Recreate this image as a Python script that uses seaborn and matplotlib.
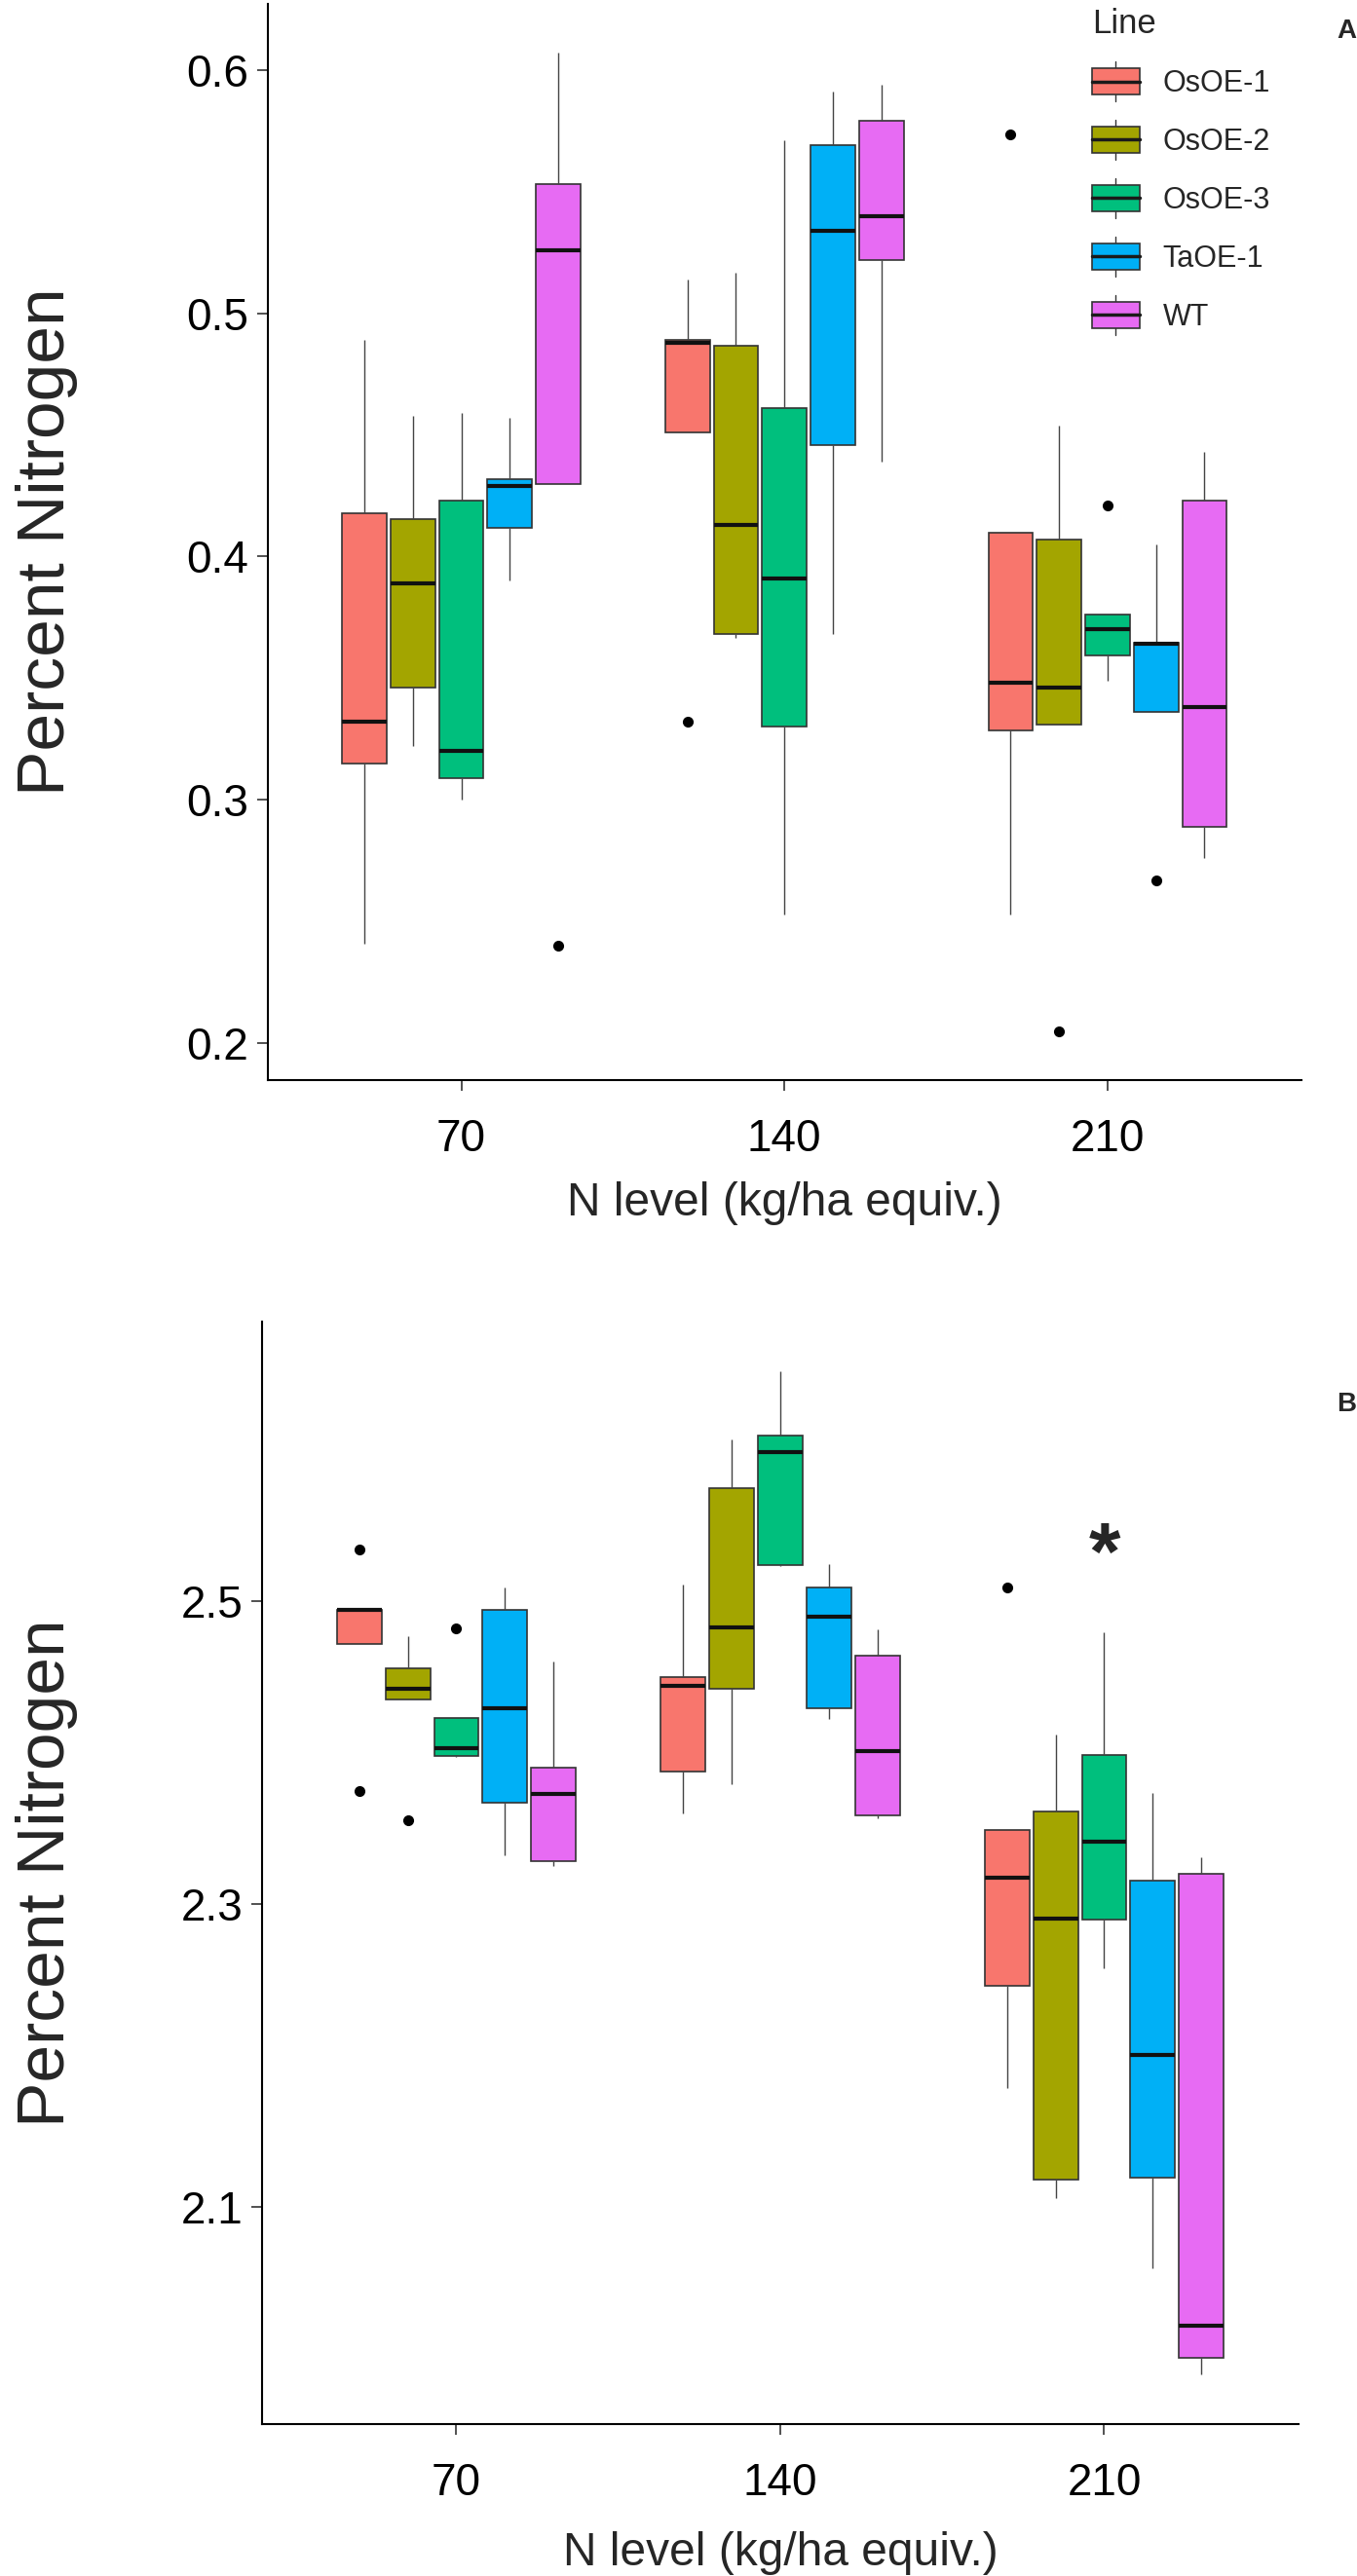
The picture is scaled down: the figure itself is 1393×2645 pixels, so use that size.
import matplotlib
matplotlib.use("Agg")
import matplotlib.pyplot as plt
import pandas as pd
import seaborn as sns
from matplotlib.legend_handler import HandlerBase
from matplotlib.lines import Line2D
from matplotlib.patches import Patch, Rectangle

levels = ["70", "140", "210"]
lines = ["OsOE-1", "OsOE-2", "OsOE-3", "TaOE-1", "WT"]
colors = ["#F8766D", "#A3A500", "#00BF7D", "#00B0F6", "#E76BF3"]

# panel A: observations per line at each N level
a_70 = [
    [0.241, 0.315, 0.332, 0.418, 0.489],
    [0.322, 0.346, 0.389, 0.4155, 0.458],
    [0.300, 0.309, 0.320, 0.423, 0.459],
    [0.390, 0.412, 0.429, 0.432, 0.457],
    [0.240, 0.430, 0.526, 0.553, 0.607],
]
a_140 = [
    [0.332, 0.451, 0.488, 0.489, 0.514],
    [0.3665, 0.368, 0.413, 0.4865, 0.5165],
    [0.253, 0.330, 0.391, 0.461, 0.571],
    [0.368, 0.446, 0.534, 0.569, 0.591],
    [0.439, 0.522, 0.540, 0.579, 0.594],
]
a_210 = [
    [0.253, 0.3285, 0.348, 0.410, 0.5735],
    [0.205, 0.331, 0.346, 0.407, 0.454],
    [0.349, 0.3594, 0.370, 0.376, 0.421],
    [0.267, 0.336, 0.364, 0.3645, 0.405],
    [0.276, 0.289, 0.338, 0.423, 0.443],
]

# panel B
b_70 = [
    [2.3745, 2.4713, 2.494, 2.494, 2.534],
    [2.3553, 2.4347, 2.4418, 2.4553, 2.4765],
    [2.397, 2.398, 2.403, 2.4226, 2.4822],
    [2.3324, 2.3668, 2.4292, 2.494, 2.5092],
    [2.3252, 2.3281, 2.3725, 2.3897, 2.4599],
]
b_140 = [
    [2.3596, 2.3877, 2.4441, 2.4496, 2.5109],
    [2.3788, 2.4418, 2.4828, 2.5745, 2.6066],
    [2.523, 2.5235, 2.598, 2.6089, 2.6513],
    [2.4221, 2.4295, 2.4897, 2.5086, 2.5241],
    [2.3567, 2.3582, 2.4009, 2.4642, 2.4811],
]
b_210 = [
    [2.1782, 2.246, 2.3172, 2.349, 2.5086],
    [2.106, 2.1182, 2.2905, 2.361, 2.412],
    [2.2576, 2.29, 2.341, 2.3983, 2.4794],
    [2.0596, 2.1196, 2.2004, 2.3152, 2.373],
    [1.9898, 2.0007, 2.0215, 2.3201, 2.331],
]

a_ticks = [0.2, 0.3, 0.4, 0.5, 0.6]
b_ticks = [2.1, 2.3, 2.5]


def to_frame(per_level):
    rows = []
    for lvl, groups in zip(levels, per_level):
        for ln, vals in zip(lines, groups):
            for v in vals:
                rows.append({"level": lvl, "Line": ln, "pct": v})
    return pd.DataFrame(rows)


class BoxKey(HandlerBase):
    # ggplot-like boxplot legend key
    def create_artists(self, legend, orig_handle, xdescent, ydescent,
                       width, height, fontsize, trans):
        x0, y0 = -xdescent, -ydescent
        xm, ym = x0 + width / 2, y0 + height / 2
        ext = height * 0.27
        whisk = Line2D([xm, xm], [y0 - ext, y0 + height + ext],
                       color="#333333", lw=1.0, transform=trans)
        box = Rectangle((x0, y0), width, height,
                        facecolor=orig_handle.get_facecolor(),
                        edgecolor="#333333", lw=1.2, transform=trans)
        med = Line2D([x0, x0 + width], [ym, ym], color="#1a1a1a",
                     lw=2.5, transform=trans)
        return [whisk, box, med]


sns.set_theme(style="ticks")
plt.rcParams["font.family"] = ["Liberation Sans", "DejaVu Sans"]

W, H = 1393, 2645
fig = plt.figure(figsize=(W / 100, H / 100), dpi=100)
ax_a = fig.add_axes([274.5 / W, 1 - 1109 / H, 1061.5 / W, 1105 / H])
ax_b = fig.add_axes([269 / W, 1 - 2489 / H, 1064 / W, 1132 / H])


def draw_panel(ax, df, yticks):
    sns.boxplot(
        data=df, x="level", y="pct", hue="Line",
        order=levels, hue_order=lines, palette=colors,
        saturation=1, width=0.75, gap=0.08,
        linecolor="#333333", linewidth=1.2,
        showcaps=False, whis=1.5, fliersize=7,
        medianprops={"color": "#111111", "linewidth": 3.0},
        whiskerprops={"linewidth": 1.0, "color": "#444444"},
        flierprops={"marker": "o", "markerfacecolor": "black",
                    "markeredgecolor": "black"},
        legend=False, ax=ax,
    )
    lo, hi = df["pct"].min(), df["pct"].max()
    pad = (hi - lo) * 0.05
    ax.set_ylim(lo - pad, hi + pad)
    ax.set_xlim(-0.6, 2.6)
    ax.set_yticks(yticks)
    ax.set_yticklabels([f"{t:g}" for t in yticks])
    sns.despine(ax=ax)
    for side in ["left", "bottom"]:
        ax.spines[side].set_color("black")
        ax.spines[side].set_linewidth(1.5)
    ax.tick_params(axis="both", length=8, width=1.2, color="#333333",
                   labelsize=33, labelcolor="black")
    ax.tick_params(axis="x", pad=20)
    ax.tick_params(axis="y", pad=6)
    ax.set_xlabel("N level (kg/ha equiv.)", fontsize=34.5, va="top")
    ax.set_ylabel("Percent Nitrogen", fontsize=50)


draw_panel(ax_a, to_frame([a_70, a_140, a_210]), a_ticks)
draw_panel(ax_b, to_frame([b_70, b_140, b_210]), b_ticks)

ax_a.xaxis.set_label_coords(0.5, -0.094)
ax_b.xaxis.set_label_coords(0.5, -0.097)
ax_a.yaxis.set_label_coords((80 - 274.5) / 1061.5, 0.5)
ax_b.yaxis.set_label_coords((80 - 269) / 1064, 0.5)

handles = [Patch(facecolor=c) for c in colors]
ax_a.legend(
    handles, lines, title="Line", loc="upper left",
    bbox_to_anchor=(1121 / W, 1 - 8 / H), bbox_transform=fig.transFigure,
    frameon=False, borderpad=0, borderaxespad=0,
    handlelength=1.6, handleheight=0.98, labelspacing=0.95,
    handletextpad=0.78, fontsize=22, title_fontsize=25,
    alignment="left", handler_map={Patch: BoxKey()},
)

# significance mark over OsOE-3 at 210
ax_b.text(2, 2.528, "*", ha="center", va="center", fontsize=60,
          fontweight="bold")

fig.text(1372 / W, 1 - 32 / H, "A", ha="left", va="center",
         fontsize=20, fontweight="bold")
fig.text(1372 / W, 1 - 1442 / H, "B", ha="left", va="center",
         fontsize=20, fontweight="bold")

fig.savefig("out.png", dpi=100)
